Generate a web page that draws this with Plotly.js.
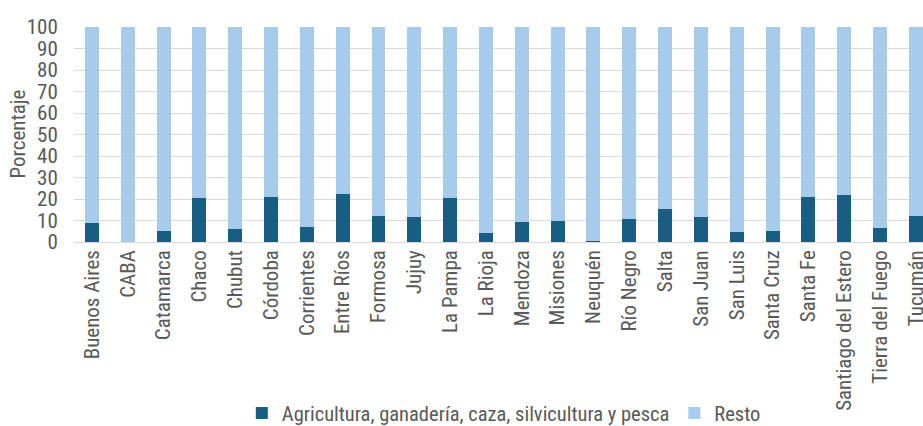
<!DOCTYPE html>
<html>
<head>
<meta charset="utf-8">
<script src="https://cdn.plot.ly/plotly-3.0.1.min.js"></script>
<style>html,body{margin:0;padding:0;background:#fff;}#chart{width:923px;height:426px;}</style>
</head>
<body>
<div id="chart"></div>
<script>
const provincias = ["Buenos Aires","CABA","Catamarca","Chaco","Chubut","Córdoba","Corrientes","Entre Ríos","Formosa","Jujuy","La Pampa","La Rioja","Mendoza","Misiones","Neuquén","Río Negro","Salta","San Juan","San Luis","Santa Cruz","Santa Fe","Santiago del Estero","Tierra del Fuego","Tucumán"];
const agricultura = [8.9,0.1,4.9,20.4,6.1,20.9,6.9,22.3,12.0,11.5,20.3,4.2,9.5,9.7,0.7,10.6,15.3,11.5,4.5,4.9,21.0,22.0,6.4,12.0];
const resto = [91.1,99.9,95.1,79.6,93.9,79.1,93.1,77.7,88.0,88.5,79.7,95.8,90.5,90.3,99.3,89.4,84.7,88.5,95.5,95.1,79.0,78.0,93.6,88.0];
const yTicks = [0,10,20,30,40,50,60,70,80,90,100];
const yTitle = 'Porcentaje';

const fontFam = '"Liberation Sans Narrow", "Roboto Condensed", Roboto, sans-serif';
const txt = '#595959';

const data = [
  {type:'bar', name:'Agricultura, ganadería, caza, silvicultura y pesca', x:provincias, y:agricultura, marker:{color:'#175e82'}},
  {type:'bar', name:'Resto', x:provincias, y:resto, marker:{color:'#a6cbeb'}}
];
const layout = {
  width:923, height:426,
  margin:{l:74, r:0, t:27, b:184},
  barmode:'stack', bargap:0.61,
  paper_bgcolor:'#fff', plot_bgcolor:'#fff',
  font:{family:fontFam, color:txt},
  xaxis:{type:'category', range:[-0.5,23.2], tickangle:-90, tickfont:{size:21, family:fontFam, color:txt}, showgrid:false, ticks:'', showline:false, automargin:false, ticklabelstandoff:3},
  yaxis:{range:[0,100], tickvals:yTicks, tickfont:{size:21, family:fontFam, color:txt}, gridcolor:'#d9d9d9', gridwidth:1, zeroline:true, zerolinecolor:'#d9d9d9', zerolinewidth:1, ticks:'outside', ticklen:11, tickcolor:'rgba(0,0,0,0)', automargin:false},
  annotations:[{text:yTitle, xref:'paper', yref:'paper', x:-0.0671, y:0.5, xanchor:'center', yanchor:'middle', textangle:-90, showarrow:false, font:{size:21, family:fontFam, color:txt}}],
  legend:{orientation:'h', xref:'container', yref:'container', x:0.262, xanchor:'left', y:0.03, yanchor:'middle', font:{size:20.5, family:fontFam, color:txt}, itemwidth:30, traceorder:'normal', bgcolor:'rgba(0,0,0,0)'},
  showlegend:true
};
Plotly.newPlot('chart', data, layout, {displayModeBar:false, staticPlot:true});
</script>
</body>
</html>
